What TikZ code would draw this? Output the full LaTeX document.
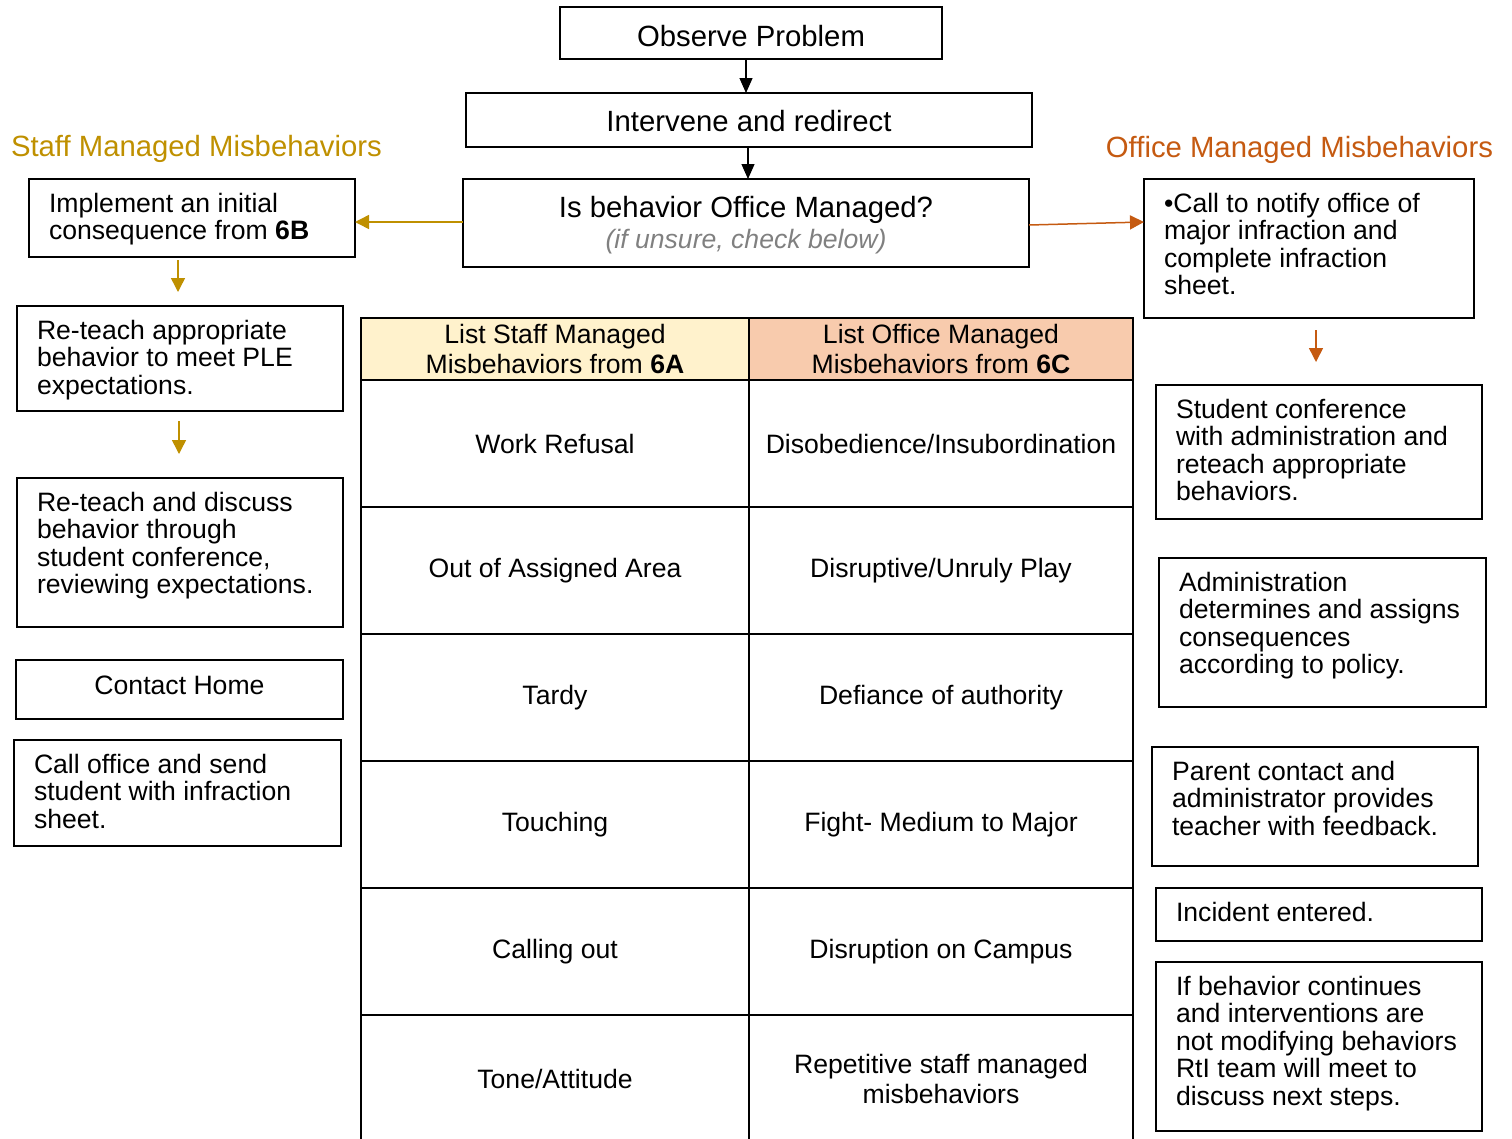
\documentclass[tikz,border=0pt]{standalone}
\usepackage{fontspec}
\setmainfont{Liberation Sans}
\usetikzlibrary{arrows.meta,calc}
\definecolor{gold}{RGB}{191,144,0}
\definecolor{orng}{RGB}{197,90,17}
\definecolor{hdrA}{RGB}{255,242,204}
\definecolor{hdrB}{RGB}{248,203,173}
\definecolor{note}{RGB}{128,128,128}
\newcommand\tlines[3]{\parbox[c][\dimexpr#1pt-27.4pt\relax][t]{\dimexpr#2pt-40pt\relax}{\begin{tabular}[t]{@{}l@{}}#3\end{tabular}}}
\begin{document}
\begin{tikzpicture}[x=1pt,y=-1pt,
 every node/.style={outer sep=0pt},
 tbox/.style={draw, line width=2pt, anchor=north west, inner xsep=20pt, inner ysep=13.7pt, font=\fontsize{26.6}{27.6}\selectfont},
 cbox/.style={draw, line width=2pt, anchor=north west, inner sep=0pt, align=center, font=\fontsize{29.3}{31}\selectfont},
 cell/.style={draw, line width=2pt, anchor=north west, inner sep=0pt, align=center, font=\fontsize{26.6}{30}\selectfont},
 heading/.style={inner sep=0pt, font=\fontsize{29.3}{31}\selectfont},
 karrow/.style={line width=1.3pt, -{Triangle[length=15pt,width=13pt]}},
 garrow/.style={gold, line width=1.5pt, -{Triangle[length=14pt,width=14pt]}},
 oarrow/.style={orng, line width=1.5pt, -{Triangle[length=14pt,width=14pt]}},
]
\useasboundingbox (0,0) rectangle (1512,1138);
\clip (0,0) rectangle (1512,1138);

% centre column
\node[cbox, minimum width=382pt, minimum height=52pt, text height=27pt, text depth=0pt] (obs) at (560,7) {Observe Problem};
\node[cbox, minimum width=566pt, minimum height=54pt, text height=22pt, text depth=0pt] (interv) at (466,93) {Intervene and redirect};
\node[cbox, minimum width=566pt, minimum height=88pt] (isb) at (463,179)
  {\rule{0pt}{25pt}Is behavior Office Managed?\\{\fontsize{26.6}{31}\selectfont\itshape\color{note}(if unsure, check below)}};

% headings
\node[heading, anchor=base west, text=gold] (hstaff) at (11,156) {Staff Managed Misbehaviors};
\node[heading, anchor=base east, text=orng] (hoffice) at (1493,157) {Office Managed Misbehaviors};

% left column
\node[tbox] (impl) at (29,179) {\tlines{78}{326}{Implement an initial\\consequence from \textbf{6B}}};
\node[tbox] (reteach) at (17,306) {\tlines{105}{326}{Re-teach appropriate\\behavior to meet PLE\\expectations.}};
\node[tbox] (discuss) at (17,478) {\tlines{149}{326}{Re-teach and discuss\\behavior through\\student conference,\\reviewing expectations.}};
\node[draw, line width=2pt, anchor=north west, minimum width=327pt, minimum height=59pt, inner sep=0pt,
      text height=19pt, text depth=9pt, font=\fontsize{26.6}{27.6}\selectfont] (contact) at (16,660) {Contact Home};
\node[tbox] (calloff) at (14,740) {\tlines{106}{327}{Call office and send\\student with infraction\\sheet.}};

% right column
\node[tbox] (callnote) at (1144,179) {\tlines{139}{330}{•Call to notify office of\\major infraction and\\complete infraction\\sheet.}};
\node[tbox] (student) at (1156,385) {\tlines{134}{326}{Student conference\\with administration and\\reteach appropriate\\behaviors.}};
\node[tbox] (admin) at (1159,558) {\tlines{149}{327}{Administration\\determines and assigns\\consequences\\according to policy.}};
\node[tbox] (parent) at (1152,747) {\tlines{119}{326}{Parent contact and\\administrator provides\\teacher with feedback.}};
\node[tbox] (incident) at (1156,888) {\tlines{53}{326}{Incident entered.}};
\node[tbox] (ifbeh) at (1156,962) {\tlines{169}{326}{If behavior continues\\and interventions are\\not modifying behaviors\\RtI team will meet to\\discuss next steps.}};

% table
\node[cell, fill=hdrA, minimum width=388pt, minimum height=62pt] (hA) at (361,318) {List Staff Managed\\Misbehaviors from \textbf{6A}};
\node[cell, fill=hdrB, minimum width=384pt, minimum height=62pt] (hC) at (749,318) {List Office Managed\\Misbehaviors from \textbf{6C}};
\node[cell, minimum width=388pt, minimum height=127pt] (a1) at (361,380) {Work Refusal};
\node[cell, minimum width=384pt, minimum height=127pt] (c1) at (749,380) {Disobedience/Insubordination};
\node[cell, minimum width=388pt, minimum height=127pt] (a2) at (361,507) {Out of Assigned Area};
\node[cell, minimum width=384pt, minimum height=127pt] (c2) at (749,507) {Disruptive/Unruly Play};
\node[cell, minimum width=388pt, minimum height=127pt] (a3) at (361,634) {Tardy};
\node[cell, minimum width=384pt, minimum height=127pt] (c3) at (749,634) {Defiance of authority};
\node[cell, minimum width=388pt, minimum height=127pt] (a4) at (361,761) {Touching};
\node[cell, minimum width=384pt, minimum height=127pt] (c4) at (749,761) {Fight- Medium to Major};
\node[cell, minimum width=388pt, minimum height=127pt] (a5) at (361,888) {Calling out};
\node[cell, minimum width=384pt, minimum height=127pt] (c5) at (749,888) {Disruption on Campus};
\node[cell, minimum width=388pt, minimum height=127pt] (a6) at (361,1015) {Tone/Attitude};
\node[cell, minimum width=384pt, minimum height=127pt] (c6) at (749,1015) {Repetitive staff managed\\misbehaviors};

% connectors
\draw[karrow] ([xshift=-5pt]obs.south) -- ([xshift=-5pt]obs.south |- interv.north);
\draw[karrow] ([xshift=-1pt]interv.south) -- ([xshift=-1pt]interv.south |- isb.north);
\draw[garrow] ([yshift=1pt]isb.west) -- ([yshift=1pt]isb.west -| impl.east);
\draw[oarrow] ([yshift=-2pt]isb.east) -- ([yshift=1pt]isb.east -| callnote.west);
\draw[garrow, shorten <=3pt, shorten >=14pt] ([xshift=-2pt]impl.south -| reteach.north) -- ([xshift=-2pt]reteach.north);
\draw[garrow, shorten <=10pt, shorten >=24pt] ([xshift=-1pt]reteach.south) -- ([xshift=-1pt]discuss.north);
\draw[oarrow, shorten <=12pt, shorten >=23pt] ([xshift=-3pt]callnote.south -| student.north) -- ([xshift=-3pt]student.north);
\end{tikzpicture}
\end{document}
